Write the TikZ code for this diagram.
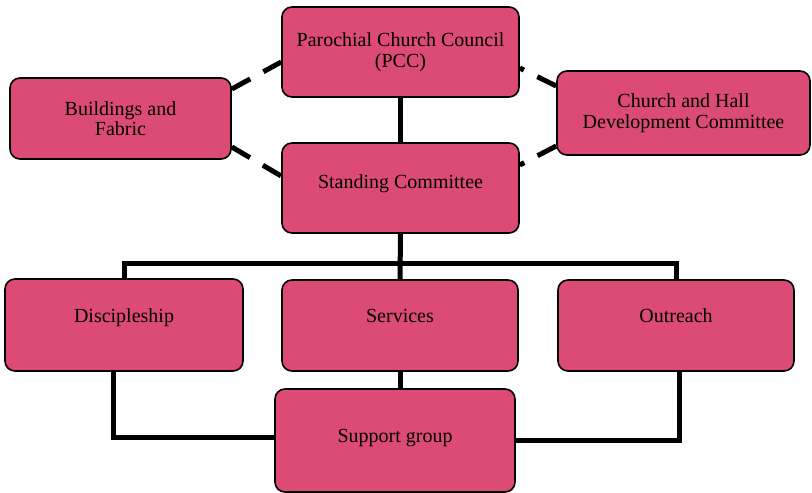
\documentclass[tikz,border=0pt]{standalone}
\usepackage{fontspec}
\setmainfont{Liberation Serif}
\usetikzlibrary{backgrounds,calc}
\definecolor{boxpink}{HTML}{DB4B74}
\tikzset{
  orgbox/.style={draw=black, line width=1.6pt, fill=boxpink, rounded corners=10pt,
    inner sep=0pt, align=center, font=\fontsize{20}{20.5}\selectfont},
  solidlink/.style={line width=5pt, draw=black},
  dashlink/.style={line width=5pt, draw=black, dash pattern=on 21pt off 15pt}
}
\begin{document}
\begin{tikzpicture}[x=1pt,y=-1pt]
\useasboundingbox (0,0) rectangle (812,493);
% boxes
\node[orgbox, minimum width=237pt, minimum height=90pt] (pcc) at (400.5,52) {Parochial Church Council\\(PCC)};
\node[orgbox, minimum width=237pt, minimum height=90pt, text height=14pt, text depth=14pt] (sc) at (400.5,188) {Standing Committee};
\node[orgbox, minimum width=221pt, minimum height=81pt] (bf) at (120.5,118.5) {Buildings and\\Fabric};
\node[orgbox, minimum width=253pt, minimum height=84pt] (ch) at (683.5,113) {Church and Hall\\Development Committee};
\node[orgbox, minimum width=238pt, minimum height=92pt, text height=14pt, text depth=20pt] (dis) at (124,325) {Discipleship};
\node[orgbox, minimum width=236pt, minimum height=91pt, text height=14pt, text depth=20pt] (ser) at (400,325.5) {Services};
\node[orgbox, minimum width=236pt, minimum height=91pt, text height=14pt, text depth=20pt] (out) at (676,325.5) {Outreach};
\node[orgbox, minimum width=240pt, minimum height=103pt, text height=14pt, text depth=10pt] (sup) at (395,440.5) {Support group};
\coordinate (bar) at (400,263);
% connectors
\begin{scope}[on background layer]
\draw[solidlink] (pcc.south) -- (sc.north);
\draw[solidlink] (sc.south) -- (ser.north);
\draw[solidlink] (dis.north) |- (bar) -| (out.north);
\draw[solidlink] (ser.south) -- (ser.south |- sup.north);
\draw[solidlink] ([xshift=-11pt]dis.south) |- ([yshift=3pt]sup.west);
\draw[solidlink] ([xshift=3pt]out.south) |- (sup.east);
\draw[dashlink] ([yshift=29.5pt]bf.east) -- ([yshift=-10pt]pcc.west);
\draw[dashlink] ([yshift=-28.5pt]bf.east) -- ([yshift=12pt]sc.west);
\draw[dashlink] ([yshift=27pt]ch.west) -- ([yshift=-16pt]pcc.east);
\draw[dashlink] ([yshift=-33pt]ch.west) -- ([yshift=23pt]sc.east);
\end{scope}
\end{tikzpicture}
\end{document}
